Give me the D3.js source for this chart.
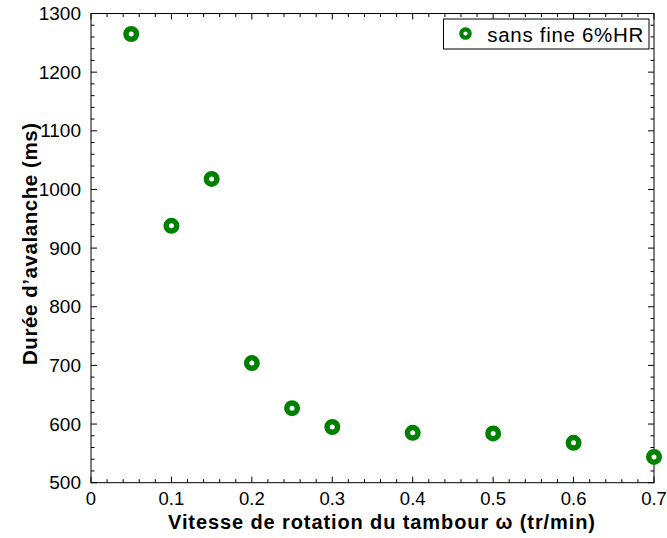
<!DOCTYPE html>
<html><head><meta charset="utf-8">
<script src="https://cdn.jsdelivr.net/npm/d3@7"></script>
<style>body{margin:0;background:#fff;} svg{display:block;}</style>
</head><body>
<svg id="c" width="667" height="538"></svg>
<script>
const speeds = [0.05, 0.1, 0.15, 0.2, 0.25, 0.3, 0.4, 0.5, 0.6, 0.7];
const durations = [1265, 938, 1018, 704, 627, 595, 585, 584, 568, 544];
const seriesName = "sans fine 6%HR";
const xTicks = [0, 0.1, 0.2, 0.3, 0.4, 0.5, 0.6, 0.7];
const yTicks = [500, 600, 700, 800, 900, 1000, 1100, 1200, 1300];
const xLabel = "Vitesse de rotation du tambour \u03C9 (tr/min)";
const yLabel = "Durée d\u2019avalanche (ms)";

const svg = d3.select("#c");
const L = 91, R = 654, T = 13.5, B = 482.7;
const x = d3.scaleLinear().domain([0, 0.7]).range([L, R]);
const y = d3.scaleLinear().domain([500, 1300]).range([B, T]);
const font = "'Liberation Sans', Arial, Helvetica, sans-serif";
const green = "#008000";

// frame
svg.append("rect").attr("x", L).attr("y", T).attr("width", R - L).attr("height", B - T)
  .attr("fill", "none").attr("stroke", "#000").attr("stroke-width", 1);

const xMinor = d3.range(0, 0.7001, 0.02);
const yMinor = d3.range(500, 1300.1, 20);
const g = svg.append("g").attr("stroke", "#000").attr("stroke-width", 1);
xMinor.forEach(v => {
  const major = xTicks.some(t => Math.abs(t - v) < 1e-6);
  const len = major ? 6 : 3.5;
  g.append("line").attr("x1", x(v)).attr("x2", x(v)).attr("y1", B).attr("y2", B - len);
  g.append("line").attr("x1", x(v)).attr("x2", x(v)).attr("y1", T).attr("y2", T + len);
});
yMinor.forEach(v => {
  const major = yTicks.includes(Math.round(v));
  const len = major ? 6 : 3.5;
  g.append("line").attr("y1", y(v)).attr("y2", y(v)).attr("x1", L).attr("x2", L + len);
  g.append("line").attr("y1", y(v)).attr("y2", y(v)).attr("x1", R).attr("x2", R - len);
});

// tick labels
svg.append("g").selectAll("text").data(xTicks).join("text")
  .attr("x", d => x(d)).attr("y", B + 22.5).attr("text-anchor", "middle")
  .attr("font-family", font).attr("font-size", 18.5).text(d => d === 0 ? "0" : d3.format(".1f")(d));
svg.append("g").selectAll("text").data(yTicks).join("text")
  .attr("x", L - 10).attr("y", d => y(d) + 6.5).attr("text-anchor", "end")
  .attr("font-family", font).attr("font-size", 19).text(d => d);

// axis titles
svg.append("text").attr("x", 168).attr("y", 528.5)
  .attr("font-family", font).attr("font-size", 20).attr("font-weight", "bold")
  .attr("textLength", 427).attr("lengthAdjust", "spacing").text(xLabel);
svg.append("text").attr("transform", `translate(36.5,365) rotate(-90)`)
  .attr("font-family", font).attr("font-size", 20.5)
  .attr("font-weight", "bold").attr("textLength", 242).attr("lengthAdjust", "spacing").text(yLabel);

// points
svg.append("g").selectAll("circle").data(speeds.map((s, i) => [s, durations[i]])).join("circle")
  .attr("cx", d => x(d[0])).attr("cy", d => y(d[1])).attr("r", 5.25)
  .attr("fill", "#fff").attr("stroke", green).attr("stroke-width", 5.5);

// legend
const lg = svg.append("g");
lg.append("rect").attr("x", 443.5).attr("y", 19).attr("width", 205.5).attr("height", 30)
  .attr("fill", "#fff").attr("stroke", "#000").attr("stroke-width", 1);
lg.append("circle").attr("cx", 465.5).attr("cy", 33.5).attr("r", 4.2)
  .attr("fill", "#fff").attr("stroke", green).attr("stroke-width", 4.2);
lg.append("text").attr("x", 487.3).attr("y", 41.6).attr("font-family", font).attr("font-size", 20.5)
  .attr("textLength", 156).attr("lengthAdjust", "spacing").text(seriesName);
</script>
</body></html>
